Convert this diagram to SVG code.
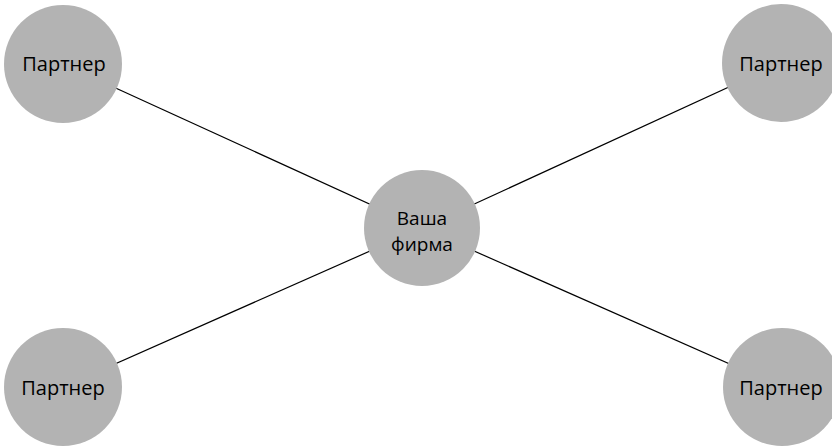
<svg xmlns="http://www.w3.org/2000/svg" width="832" height="447" viewBox="0 0 832 447">
<style>
.n{fill:#b3b3b3}
.t{font-family:"Open Sans","Noto Sans",sans-serif;font-size:20px;fill:#000;text-anchor:middle}
.c{font-size:19px}
#edges line{stroke:#000;stroke-width:1.2}
</style>
<rect width="832" height="447" fill="#fff"/>
<g id="edges">
<line x1="63" y1="64" x2="422" y2="228"/>
<line x1="781" y1="63" x2="422" y2="228"/>
<line x1="63" y1="387" x2="422" y2="228"/>
<line x1="782" y1="387" x2="422" y2="228"/>
</g>
<g id="center"><circle class="n" cx="422" cy="228" r="58"/><text class="t c" x="422" y="225">Ваша</text><text class="t c" x="422" y="251">фирма</text></g>
<g id="tl"><circle class="n" cx="63" cy="64" r="59"/><text class="t" x="64" y="71">Партнер</text></g>
<g id="tr"><circle class="n" cx="781" cy="63" r="59"/><text class="t" x="781" y="71">Партнер</text></g>
<g id="bl"><circle class="n" cx="63" cy="387" r="59"/><text class="t" x="63" y="395">Партнер</text></g>
<g id="br"><circle class="n" cx="782" cy="387" r="59"/><text class="t" x="781" y="395">Партнер</text></g>
</svg>
